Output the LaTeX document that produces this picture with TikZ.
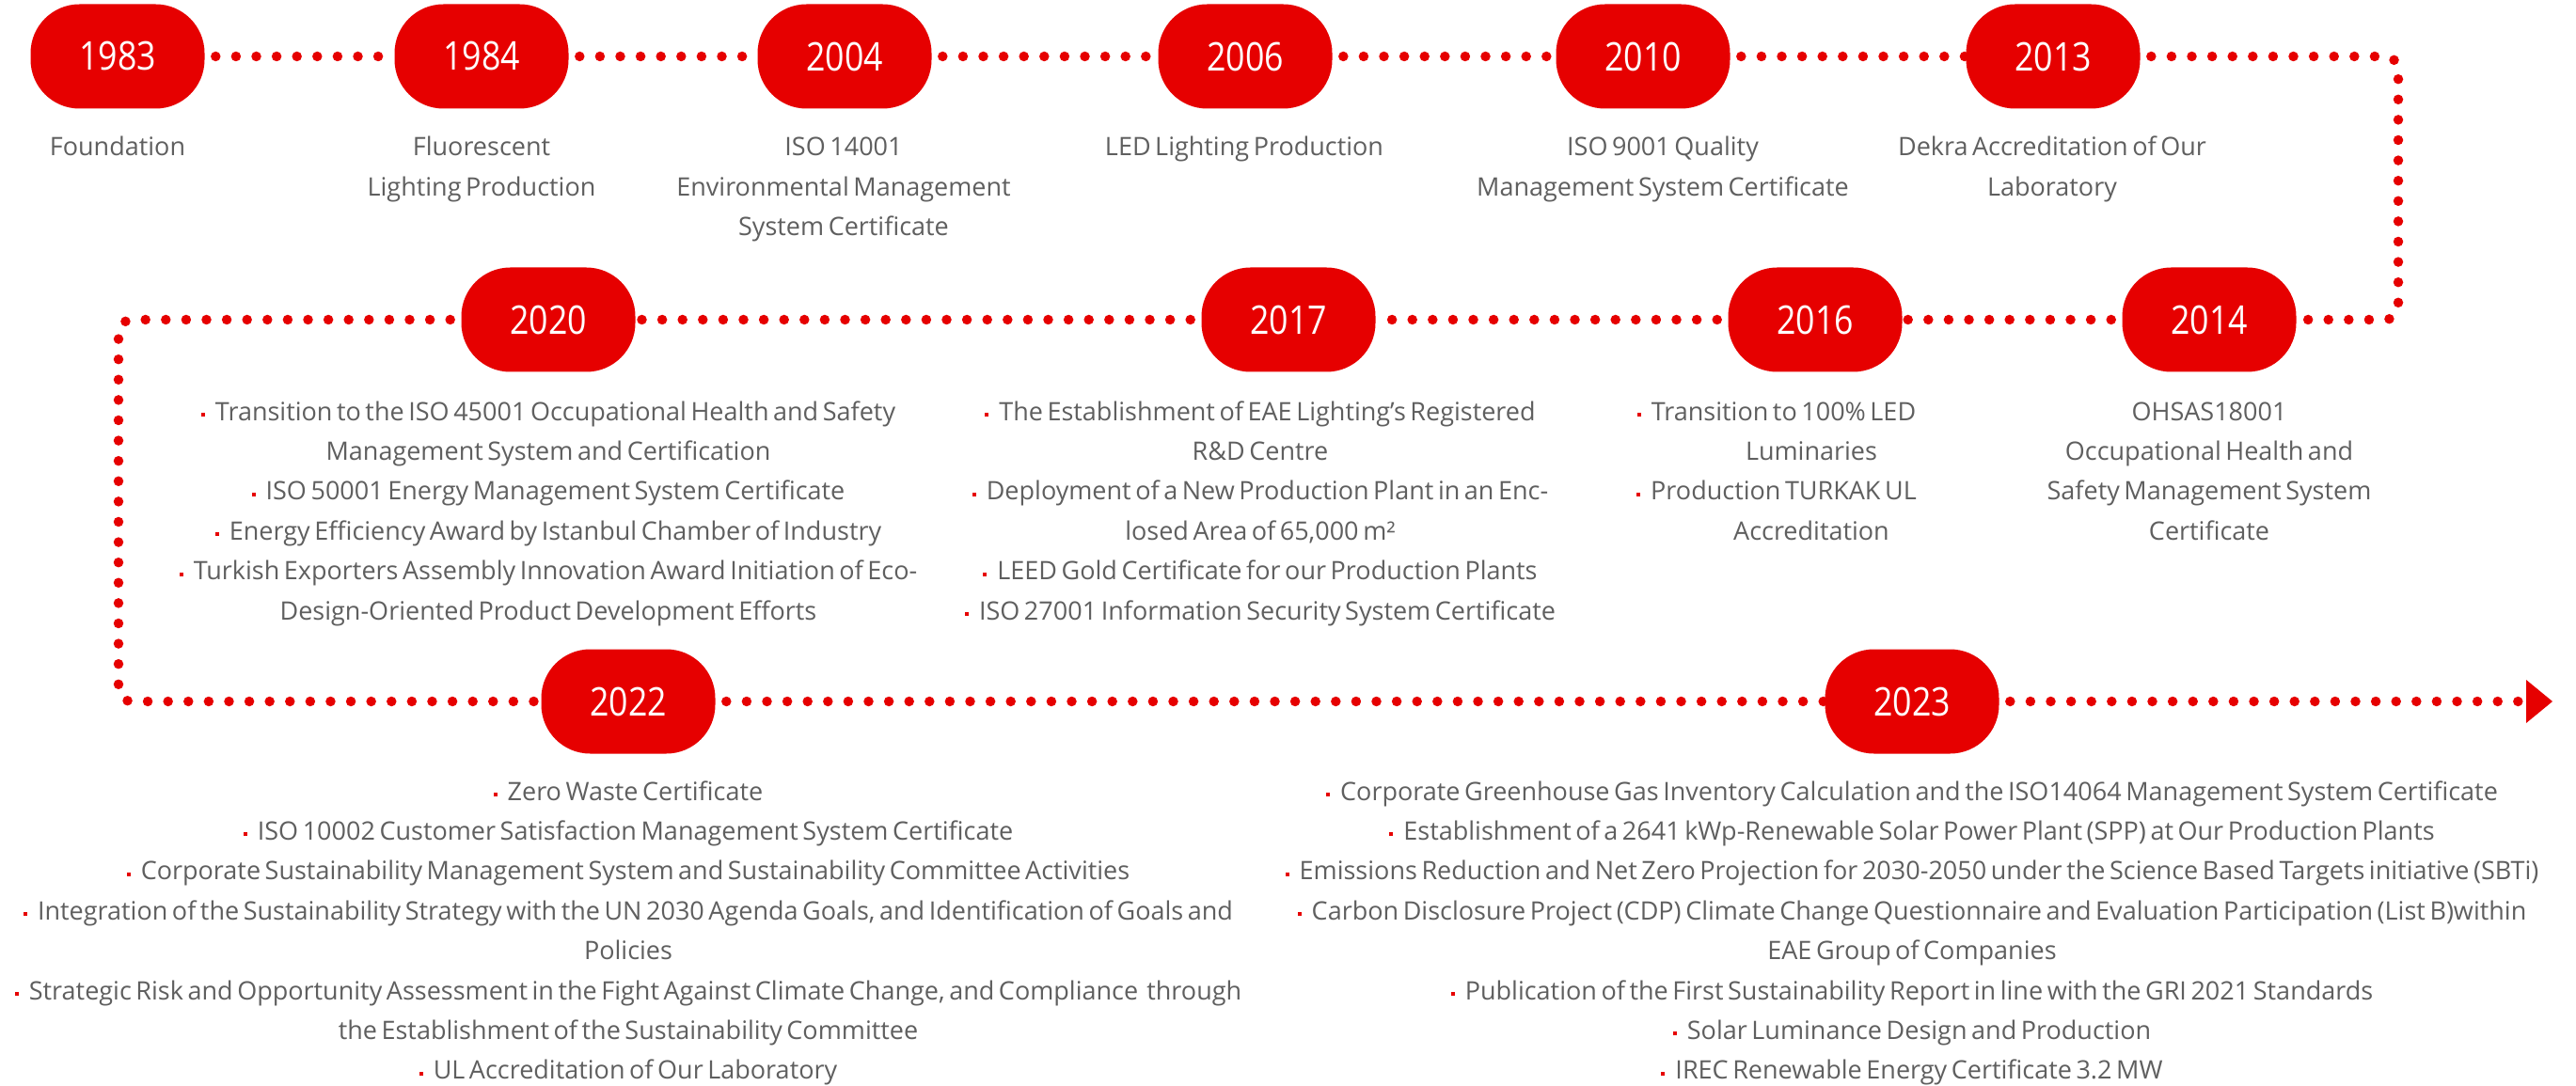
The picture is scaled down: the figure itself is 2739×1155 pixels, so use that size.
\documentclass[tikz,border=0pt]{standalone}
\usepackage{fontspec}
\setmainfont{Open Sans}[WordSpace=0.65]
\newfontfamily\yearfont{Open Sans}[FakeStretch=0.85]
\usetikzlibrary{backgrounds}
\definecolor{ered}{HTML}{E60000}
\definecolor{egray}{HTML}{5F5F5F}
\newcommand\bul{{\color{ered}\rule[4pt]{4pt}{4pt}}\hspace{11pt}}
\tikzset{
  yearbox/.style={fill=ered, rounded corners=52pt, minimum width=185pt, minimum height=111pt,
    inner sep=0pt, text=white, font={\yearfont\fontsize{42}{42}\selectfont}},
  info/.style={anchor=base, text width=1500pt, align=flush center, inner sep=0pt, text=egray,
    font={\fontsize{27}{42.4}\selectfont}},
  dotline/.style={draw=ered, line width=10.5pt, line cap=round, dash pattern=on 0pt off 21.6pt, dash phase=10pt},
}
\begin{document}
\begin{tikzpicture}[x=1pt,y=-1pt]
% pills
\node[yearbox] (y1983) at (125,60) {1983};
\node[yearbox] (y1984) at (512,60) {1984};
\node[yearbox] (y2004) at (898,60) {2004};
\node[yearbox] (y2006) at (1324,60) {2006};
\node[yearbox] (y2010) at (1747,60) {2010};
\node[yearbox] (y2013) at (2183,60) {2013};
\node[yearbox] (y2020) at (583,340) {2020};
\node[yearbox] (y2017) at (1370,340) {2017};
\node[yearbox] (y2016) at (1930,340) {2016};
\node[yearbox] (y2014) at (2349,340) {2014};
\node[yearbox] (y2022) at (668,746) {2022};
\node[yearbox] (y2023) at (2033,746) {2023};
% corner coordinates
\coordinate (c1) at (2550,60);
\coordinate (c2) at (2550,340);
\coordinate (c3) at (126,340);
\coordinate (c4) at (126,746);
\coordinate (aend) at (2686,746);
\begin{pgfonlayer}{background}
\fill[white] (0,0) rectangle (2739,1155);
\draw[dotline] (y1983.east) -- (y1984.west);
\draw[dotline] (y1984.east) -- (y2004.west);
\draw[dotline] (y2004.east) -- (y2006.west);
\draw[dotline] (y2006.east) -- (y2010.west);
\draw[dotline] (y2010.east) -- (y2013.west);
\draw[dotline, rounded corners=14pt] (y2013.east) -- (c1) -- (c2) -- (y2014.east);
\draw[dotline] (y2014.west) -- (y2016.east);
\draw[dotline] (y2016.west) -- (y2017.east);
\draw[dotline] (y2017.west) -- (y2020.east);
\draw[dotline, rounded corners=14pt] (y2020.west) -- (c3) -- (c4) -- (y2022.west);
\draw[dotline] (y2022.east) -- (y2023.west);
\draw[dotline] (y2023.east) -- (aend);
\fill[ered] (aend) -- ++(0,-23) -- ++(28,23) -- ++(-28,23) -- cycle;
\end{pgfonlayer}
\useasboundingbox (0,0) rectangle (2739,1155);
% texts row 1
\node[info] (t1983) at (125,166) {Foundation};
\node[info] (t1984) at (512,166) {Fluorescent\\Lighting Production};
\node[info] (t2004) at (897,166) {ISO 14001\\Environmental Management\\System Certificate};
\node[info] (t2006) at (1323,166) {LED Lighting Production};
\node[info] (t2010) at (1768,166) {ISO 9001 Quality\\Management System Certificate};
\node[info] (t2013) at (2182,166) {Dekra Accreditation of Our\\Laboratory};
% texts row 2
\node[info] (t2020) at (583,447) {\bul Transition to the ISO 45001 Occupational Health and Safety\\
Management System and Certification\\
\bul ISO 50001 Energy Management System Certificate\\
\bul Energy Efficiency Award by Istanbul Chamber of Industry\\
\bul Turkish Exporters Assembly Innovation Award Initiation of Eco-\\
Design-Oriented Product Development Efforts};
\node[info] (t2017) at (1340,447) {\bul The Establishment of EAE Lighting’s Registered\\
R\&D Centre\\
\bul Deployment of a New Production Plant in an Enc-\\
losed Area of 65,000 m²\\
\bul LEED Gold Certificate for our Production Plants\\
\bul ISO 27001 Information Security System Certificate};
\node[info] (t2016) at (1926,447) {\bul Transition to 100\% LED\hspace*{74pt}\mbox{}\\
Luminaries\\
\bul Production TURKAK UL\hspace*{74pt}\mbox{}\\
Accreditation};
\node[info] (t2014) at (2349,447) {OHSAS18001\\Occupational Health and\\Safety Management System\\Certificate};
% texts row 3
\node[info] (t2022) at (668,851) {\bul Zero Waste Certificate\\
\bul ISO 10002 Customer Satisfaction Management System Certificate\\
\bul Corporate Sustainability Management System and Sustainability Committee Activities\\
\bul Integration of the Sustainability Strategy with the UN 2030 Agenda Goals, and Identification of Goals and\\
Policies\\
\bul Strategic Risk and Opportunity Assessment in the Fight Against Climate Change, and Compliance~ through\\
the Establishment of the Sustainability Committee\\
\bul UL Accreditation of Our Laboratory};
\node[info] (t2023) at (2033,851) {\bul Corporate Greenhouse Gas Inventory Calculation and the ISO14064 Management System Certificate\\
\bul Establishment of a 2641 kWp-Renewable Solar Power Plant (SPP) at Our Production Plants\\
\bul Emissions Reduction and Net Zero Projection for 2030-2050 under the Science Based Targets initiative (SBTi)\\
\bul Carbon Disclosure Project (CDP) Climate Change Questionnaire and Evaluation Participation (List B)within\\
EAE Group of Companies\\
\bul Publication of the First Sustainability Report in line with the GRI 2021 Standards\\
\bul Solar Luminance Design and Production\\
\bul IREC Renewable Energy Certificate 3.2 MW};
\end{tikzpicture}
\end{document}
